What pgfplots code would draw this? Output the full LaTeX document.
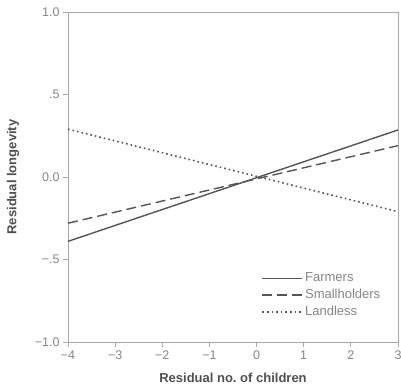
\documentclass[border=0pt]{standalone}
\usepackage{pgfplots}
\pgfplotsset{compat=1.18}
\usepackage{fontspec}
\setmainfont{Liberation Sans}
\definecolor{frame}{HTML}{A8A8A8}
\definecolor{ticklab}{HTML}{858585}
\definecolor{lab}{HTML}{505050}
\definecolor{ln}{HTML}{555555}
\newcommand{\lf}{\fontsize{13}{16}\selectfont}
\newcommand{\af}{\fontsize{13}{15}\selectfont\bfseries}
\begin{document}
\begin{tikzpicture}[x=1pt,y=1pt]
\begin{axis}[
  scale only axis, width=330pt, height=330pt,
  xmin=-4, xmax=3, ymin=-1, ymax=1,
  axis line style={frame, line width=0.9pt},
  xtick={-4,-3,-2,-1,0,1,2,3},
  xticklabels={−4,−3,−2,−1,0,1,2,3},
  ytick={-1,-0.5,0,0.5,1},
  yticklabels={−1.0,−.5,0.0,.5,1.0},
  tick align=outside, tick pos=left,
  major tick length=5pt,
  tick style={frame, line width=0.9pt},
  /pgf/number format/assume math mode=true,
  ticklabel style={font=\fontsize{12.5}{14}\selectfont, text=ticklab},
  xlabel={\af Residual no.\ of children},
  ylabel={\af Residual longevity},
  every axis y label/.style={at={(axis description cs:0,0.5)}, xshift=-55pt, rotate=90, anchor=center, text=lab},
  every axis x label/.style={at={(axis description cs:0.5,0)}, yshift=-36pt, anchor=center, text=lab},
  legend style={at={(0.962,0.062)}, anchor=south east, draw=none, fill=none,
    text=ticklab, row sep=2pt, font=\lf},
  legend cell align=left,
  legend image code/.code={\draw[#1] (-2pt,0pt) -- (38pt,0pt);},
]
\addplot[ln, line width=1.4pt] coordinates {(-4,-0.39) (3,0.285)};
\addlegendentry{Farmers}
\addplot[ln, line width=1.4pt, dash pattern=on 10pt off 5pt] coordinates {(-4,-0.28) (3,0.19)};
\addlegendentry{Smallholders}
\addplot[ln, line width=1.6pt, dash pattern=on 1.6pt off 3pt] coordinates {(-4,0.29) (3,-0.21)};
\addlegendentry{Landless}
\end{axis}
\pgfresetboundingbox
\path (current axis.south west) ++(-68pt,-45pt) coordinate (a);
\path (current axis.north east) ++(3pt,12pt) coordinate (b);
\useasboundingbox (a) rectangle (b);
\end{tikzpicture}
\end{document}
